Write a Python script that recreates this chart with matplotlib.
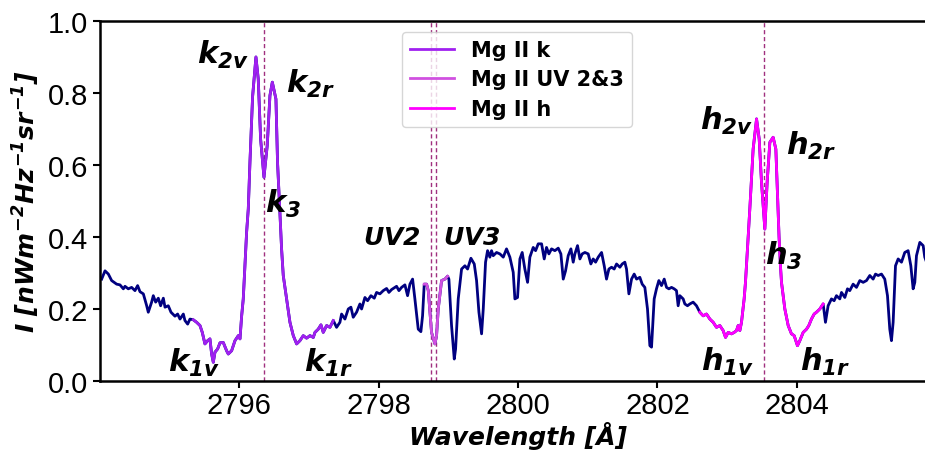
import numpy as np
import matplotlib
matplotlib.use("Agg")
import matplotlib.pyplot as plt

plt.rcParams['mathtext.fontset'] = 'custom'
plt.rcParams['mathtext.rm'] = 'DejaVu Sans:italic:bold'
plt.rcParams['mathtext.it'] = 'DejaVu Sans:italic:bold'
plt.rcParams['mathtext.bf'] = 'DejaVu Sans:italic:bold'

# spectrum (wavelength in A, intensity in nW m-2 Hz-1 sr-1)
wl = [2794.024, 2794.072, 2794.120, 2794.167, 2794.239, 2794.287, 2794.335, 2794.359, 2794.406, 2794.454,
      2794.502, 2794.540, 2794.574, 2794.622, 2794.670, 2794.693, 2794.741, 2794.765, 2794.799, 2794.837,
      2794.870, 2794.909, 2794.933, 2794.980, 2795.019, 2795.076, 2795.114, 2795.148, 2795.196, 2795.219,
      2795.258, 2795.291, 2795.339, 2795.387, 2795.435, 2795.468, 2795.506, 2795.545, 2795.578, 2795.602,
      2795.626, 2795.650, 2795.688, 2795.722, 2795.769, 2795.817, 2795.841, 2795.889, 2795.937, 2795.985,
      2796.009, 2796.033, 2796.056, 2796.080, 2796.104, 2796.128, 2796.152, 2796.190, 2796.238, 2796.271,
      2796.305, 2796.353, 2796.400, 2796.439, 2796.473, 2796.525, 2796.548, 2796.582, 2796.606, 2796.630,
      2796.678, 2796.726, 2796.774, 2796.822, 2796.869, 2796.917, 2796.965, 2797.013, 2797.061, 2797.085,
      2797.132, 2797.171, 2797.204, 2797.252, 2797.300, 2797.348, 2797.395, 2797.443, 2797.467, 2797.515,
      2797.563, 2797.601, 2797.634, 2797.682, 2797.730, 2797.754, 2797.802, 2797.840, 2797.888, 2797.936,
      2797.969, 2798.017, 2798.065, 2798.113, 2798.146, 2798.185, 2798.232, 2798.256, 2798.290, 2798.328,
      2798.376, 2798.414, 2798.448, 2798.486, 2798.519, 2798.567, 2798.605, 2798.629, 2798.653, 2798.687,
      2798.711, 2798.735, 2798.758, 2798.806, 2798.830, 2798.854, 2798.902, 2798.950, 2798.988, 2799.007,
      2799.045, 2799.084, 2799.103, 2799.141, 2799.189, 2799.237, 2799.275, 2799.323, 2799.371, 2799.404,
      2799.438, 2799.476, 2799.500, 2799.533, 2799.562, 2799.595, 2799.619, 2799.643, 2799.691, 2799.739,
      2799.787, 2799.834, 2799.882, 2799.930, 2799.954, 2799.992, 2800.026, 2800.059, 2800.097, 2800.136,
      2800.169, 2800.217, 2800.251, 2800.289, 2800.337, 2800.375, 2800.408, 2800.442, 2800.480, 2800.528,
      2800.576, 2800.614, 2800.648, 2800.681, 2800.719, 2800.758, 2800.791, 2800.815, 2800.853, 2800.887,
      2800.920, 2800.959, 2801.006, 2801.044, 2801.078, 2801.112, 2801.150, 2801.198, 2801.236, 2801.269,
      2801.303, 2801.341, 2801.379, 2801.413, 2801.461, 2801.494, 2801.532, 2801.556, 2801.590, 2801.628,
      2801.666, 2801.700, 2801.747, 2801.781, 2801.819, 2801.857, 2801.891, 2801.915, 2801.953, 2801.986,
      2802.020, 2802.058, 2802.097, 2802.130, 2802.164, 2802.202, 2802.240, 2802.273, 2802.297, 2802.321,
      2802.369, 2802.393, 2802.431, 2802.465, 2802.512, 2802.560, 2802.608, 2802.656, 2802.704, 2802.752,
      2802.800, 2802.847, 2802.895, 2802.943, 2802.977, 2803.015, 2803.063, 2803.101, 2803.134, 2803.158,
      2803.182, 2803.206, 2803.244, 2803.263, 2803.292, 2803.326, 2803.373, 2803.422, 2803.460, 2803.493,
      2803.541, 2803.574, 2803.613, 2803.660, 2803.699, 2803.725, 2803.745, 2803.765, 2803.780, 2803.828,
      2803.876, 2803.923, 2803.962, 2804.009, 2804.043, 2804.091, 2804.139, 2804.172, 2804.210, 2804.249,
      2804.282, 2804.330, 2804.378, 2804.411, 2804.449, 2804.497, 2804.535, 2804.569, 2804.617, 2804.641,
      2804.689, 2804.727, 2804.760, 2804.808, 2804.856, 2804.904, 2804.952, 2805.000, 2805.047, 2805.095,
      2805.129, 2805.167, 2805.215, 2805.262, 2805.301, 2805.334, 2805.358, 2805.382, 2805.416, 2805.454,
      2805.502, 2805.549, 2805.597, 2805.636, 2805.669, 2805.693, 2805.717, 2805.765, 2805.813, 2805.836,
      2805.880]
inten = [0.283, 0.306, 0.297, 0.279, 0.269, 0.267, 0.256, 0.263, 0.256, 0.260,
         0.251, 0.265, 0.248, 0.242, 0.209, 0.191, 0.219, 0.237, 0.219, 0.230,
         0.209, 0.230, 0.205, 0.209, 0.191, 0.180, 0.186, 0.172, 0.186, 0.168,
         0.158, 0.172, 0.170, 0.163, 0.154, 0.135, 0.103, 0.112, 0.117, 0.075,
         0.052, 0.080, 0.089, 0.106, 0.107, 0.084, 0.075, 0.084, 0.112, 0.126,
         0.117, 0.181, 0.228, 0.320, 0.413, 0.478, 0.608, 0.790, 0.900, 0.839,
         0.672, 0.566, 0.654, 0.793, 0.830, 0.783, 0.607, 0.469, 0.367, 0.293,
         0.228, 0.163, 0.126, 0.103, 0.112, 0.126, 0.119, 0.126, 0.121, 0.135,
         0.144, 0.156, 0.135, 0.154, 0.149, 0.168, 0.149, 0.163, 0.186, 0.172,
         0.200, 0.205, 0.177, 0.191, 0.214, 0.200, 0.232, 0.223, 0.237, 0.230,
         0.246, 0.242, 0.251, 0.257, 0.246, 0.254, 0.260, 0.263, 0.251, 0.260,
         0.267, 0.237, 0.269, 0.283, 0.228, 0.144, 0.137, 0.181, 0.269, 0.269,
         0.251, 0.191, 0.135, 0.103, 0.126, 0.200, 0.279, 0.283, 0.291, 0.283,
         0.154, 0.061, 0.089, 0.228, 0.311, 0.320, 0.311, 0.341, 0.325, 0.279,
         0.191, 0.131, 0.200, 0.330, 0.362, 0.344, 0.362, 0.348, 0.357, 0.353,
         0.344, 0.367, 0.344, 0.302, 0.228, 0.232, 0.339, 0.357, 0.311, 0.274,
         0.344, 0.371, 0.362, 0.381, 0.381, 0.339, 0.371, 0.353, 0.367, 0.362,
         0.369, 0.353, 0.283, 0.306, 0.348, 0.367, 0.330, 0.353, 0.376, 0.339,
         0.353, 0.357, 0.353, 0.325, 0.339, 0.330, 0.344, 0.357, 0.320, 0.283,
         0.311, 0.316, 0.311, 0.325, 0.316, 0.325, 0.330, 0.311, 0.242, 0.283,
         0.297, 0.283, 0.288, 0.269, 0.260, 0.200, 0.098, 0.094, 0.228, 0.256,
         0.279, 0.265, 0.283, 0.260, 0.256, 0.260, 0.256, 0.251, 0.209, 0.237,
         0.228, 0.214, 0.209, 0.214, 0.219, 0.209, 0.191, 0.181, 0.186, 0.172,
         0.163, 0.149, 0.154, 0.140, 0.121, 0.135, 0.131, 0.135, 0.140, 0.154,
         0.140, 0.163, 0.228, 0.274, 0.367, 0.480, 0.644, 0.728, 0.672, 0.552,
         0.422, 0.552, 0.663, 0.677, 0.644, 0.506, 0.400, 0.320, 0.274, 0.200,
         0.154, 0.131, 0.126, 0.098, 0.112, 0.135, 0.144, 0.154, 0.172, 0.186,
         0.191, 0.200, 0.214, 0.163, 0.209, 0.228, 0.223, 0.237, 0.228, 0.246,
         0.232, 0.256, 0.251, 0.269, 0.260, 0.279, 0.274, 0.279, 0.293, 0.283,
         0.297, 0.293, 0.297, 0.283, 0.237, 0.144, 0.112, 0.163, 0.320, 0.339,
         0.330, 0.357, 0.362, 0.320, 0.256, 0.274, 0.348, 0.385, 0.376, 0.344,
         0.320]

# line cores and the highlighted windows
line_centres = [2796.35, 2798.75, 2798.82, 2803.53]
k_window = (2795.30, 2797.35)
uv_window = (2798.65, 2798.99)
h_window = (2802.60, 2804.39)

labels = [r'$k_{2v}$', r'$k_{2r}$', r'$k_3$', r'$k_{1v}$', r'$k_{1r}$',
          r'$h_{2v}$', r'$h_{2r}$', r'$h_3$', r'$h_{1v}$', r'$h_{1r}$']
label_x = [2795.39, 2796.67, 2796.37, 2794.98, 2796.93,
           2802.61, 2803.84, 2803.54, 2802.63, 2804.04]
label_y = [0.883, 0.803, 0.469, 0.028, 0.028,
           0.700, 0.631, 0.325, 0.030, 0.030]
uv_labels = [r'$UV2$', r'$UV3$']
uv_x = [2797.77, 2798.92]
uv_y = [0.381, 0.381]

wl = np.array(wl)
inten = np.array(inten)

fig = plt.figure(figsize=(9.25, 4.56), dpi=100)
ax = fig.add_axes([0.1081, 0.1623, 0.904, 0.7895])

ax.plot(wl, inten, color='navy', lw=2)
for (lo, hi), c, lab in [(k_window, '#A020F0', 'Mg II k'),
                         (uv_window, '#D050E0', 'Mg II UV 2&3'),
                         (h_window, '#FF00FF', 'Mg II h')]:
    m = (wl >= lo) & (wl <= hi)
    ax.plot(wl[m], inten[m], color=c, lw=2, label=lab)

for lc in line_centres:
    ax.axvline(lc, color='#A0307F', ls=(0, (3, 2)), lw=1, zorder=1)

for t, x, y in zip(labels, label_x, label_y):
    ax.text(x, y, t, fontsize=22, color='black')
for t, x, y in zip(uv_labels, uv_x, uv_y):
    ax.text(x, y, t, fontsize=18, color='black')

ax.set_xlim(2794, 2806)
ax.set_ylim(0, 1.0)
ax.set_xticks([2796, 2798, 2800, 2802, 2804])
ax.set_yticks([0.0, 0.2, 0.4, 0.6, 0.8, 1.0])
ax.tick_params(labelsize=21, width=1.5, length=5)
ax.tick_params(axis='x', pad=2.5)
for tl in ax.get_xticklabels() + ax.get_yticklabels():
    tl.set_family('Liberation Sans')
for s in ax.spines.values():
    s.set_linewidth(1.8)

ax.set_xlabel('Wavelength [Å]', fontsize=18, fontweight='bold', style='italic', labelpad=1)
ax.set_ylabel(r'$I\ [nWm^{-2}Hz^{-1}sr^{-1}]$', fontsize=18)

ax.legend(loc='upper left', bbox_to_anchor=(0.361, 0.97), borderaxespad=0,
          prop={'weight': 'bold', 'size': 15}, handlelength=2.1, labelspacing=0.45)

fig.savefig('out.png', dpi=100)
